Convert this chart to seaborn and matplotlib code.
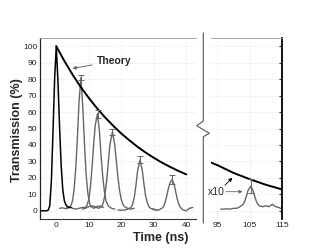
import matplotlib
matplotlib.use("Agg")
import matplotlib.pyplot as plt
import seaborn as sns
from matplotlib.lines import Line2D

# theory curve, right panel is x10
theory_t = [0, 2.5, 5, 7.5, 10, 12.5, 15, 17.5, 20, 22.5, 25, 27.5, 30, 32.5, 35, 37.5, 40]
theory_y = [100, 91.0, 82.8, 75.3, 68.6, 62.4, 56.8, 51.7, 47.0, 42.8, 38.9, 35.4, 32.2, 29.3, 26.7, 24.3, 22.1]
theory_t_late = [93, 95, 100, 105, 110, 115]
theory_y_late = [29.3, 27.7, 23.0, 19.2, 15.8, 13.0]

# input pulse (black)
ref_t = [-5, -4, -3, -2.5, -2, -1.5, -1, -0.5, 0, 0.5, 1, 1.5, 2, 2.5, 3, 3.5, 4, 4.5]
ref_y = [0, 0, 0, 0.3, 3, 18, 48, 80, 100, 80, 52, 28, 13, 6, 3.5, 2.5, 2, 2]

# delayed pulses (gray)
p1_t = [1, 2, 3, 4, 4.5, 5, 5.5, 6, 6.5, 7, 7.6, 8.2, 8.7, 9.2, 9.7, 10.2, 10.7, 11.5, 12.5, 13.5, 14.5]
p1_y = [1.5, 1.8, 1.2, 2, 3, 6, 13, 26, 44, 66, 81, 62, 40, 22, 11, 5, 2.5, 1.5, 2.5, 3, 2]
p2_t = [3, 4, 5, 6, 7, 8, 9, 9.5, 10, 10.5, 11, 11.5, 12, 12.7, 13.3, 13.8, 14.3, 14.8, 15.3, 16, 17, 18]
p2_y = [1.5, 2.5, 1.5, 1, 1.5, 2, 2, 3.5, 7, 14, 26, 40, 52, 59, 48, 33, 21, 12, 6, 3, 1.5, 1]
p3_t = [8, 9, 10, 11, 12, 13, 14, 14.5, 15, 15.5, 16, 16.5, 17.3, 18, 18.5, 19, 19.5, 20, 20.5, 21, 22, 23, 24]
p3_y = [1, 1.5, 2.5, 3, 2.5, 1.5, 2.5, 5, 10, 18, 29, 40, 48, 40, 30, 20, 12, 7, 4, 2.5, 1.5, 1, 1.5]
p4_t = [19, 20, 21, 22, 23, 23.5, 24, 24.5, 25, 25.8, 26.5, 27, 27.5, 28, 28.5, 29, 30, 31]
p4_y = [0.5, 0.3, 0.5, 1, 2, 4, 8, 15, 24, 31, 24, 16, 9, 5, 2.5, 1.5, 1, 0.5]
p5_t = [29.5, 30.5, 31.5, 32.5, 33, 33.5, 34, 34.5, 35, 35.6, 36.2, 36.7, 37.2, 37.7, 38.2, 39, 40, 41, 42]
p5_y = [1, 0.5, 0.5, 1.5, 2.5, 5, 9, 13.5, 17, 19, 16.5, 12, 7.5, 4, 2, 0.5, 0, 1.5, 2]
p6_t = [96, 97, 98, 99, 100, 101, 102, 103, 103.5, 104, 104.5, 105.3, 106, 106.5, 107, 107.5, 108, 109, 110, 111, 112, 113, 114, 115]
p6_y = [1, 1, 1.2, 1, 1.5, 1.5, 2.5, 4, 6, 9, 12.5, 14.8, 12.5, 9, 6, 4, 3, 2.5, 3, 2.5, 4, 2.5, 2, 1]

# error bars at the peaks
err_t = [7.6, 12.7, 17.3, 25.8, 35.6]
err_y = [81, 59, 48, 31, 19]
err_e = [1.5, 2.5, 2, 2, 2.5]
err_t_late = [105.3]
err_y_late = [15]
err_e_late = [4.5]

sns.set_style("white")
plt.rcParams["font.family"] = ["Liberation Sans", "DejaVu Sans"]

fig = plt.figure(figsize=(3.11, 2.48), dpi=100)
ax1 = fig.add_axes([40 / 311, 1 - 219 / 248, 156 / 311, 181 / 248])
ax2 = fig.add_axes([211 / 311, 1 - 219 / 248, 71 / 311, 181 / 248])

gray = "#666666"
for ax in (ax1, ax2):
    ax.set_ylim(-5, 105)
    ax.grid(True, color="#d4d4d4", linestyle=(0, (1, 2)), linewidth=0.5)
    ax.set_xlabel("")
    ax.set_ylabel("")
    ax.tick_params(labelsize=6, colors="#222222", length=2, direction="in", pad=2)
    ax.spines["top"].set_color("#999999")
    ax.spines["top"].set_linewidth(0.6)

# left panel
for t, y in [(p1_t, p1_y), (p2_t, p2_y), (p3_t, p3_y), (p4_t, p4_y), (p5_t, p5_y)]:
    sns.lineplot(x=t, y=y, ax=ax1, color=gray, lw=1.0, sort=False)
sns.lineplot(x=ref_t, y=ref_y, ax=ax1, color="black", lw=1.1, sort=False)
sns.lineplot(x=theory_t, y=theory_y, ax=ax1, color="black", lw=1.4, sort=False)
ax1.errorbar(err_t, err_y, yerr=err_e, fmt="none", ecolor=gray, elinewidth=0.7, capsize=2, capthick=0.7)
ax1.set_xlim(-5, 43)
ax1.set_xticks([0, 10, 20, 30, 40])
ax1.set_yticks(range(0, 101, 10))
ax1.spines["right"].set_visible(False)
ax1.spines["left"].set_color("#222222")
ax1.spines["left"].set_linewidth(0.9)
ax1.spines["bottom"].set_color("#333333")
ax1.spines["bottom"].set_linewidth(0.8)
ax1.annotate("Theory", xy=(5, 86.5), xytext=(12.5, 91), ha="left", va="center",
             fontsize=7.5, fontweight="bold",
             arrowprops=dict(arrowstyle="-|>", color=gray, lw=0.7, mutation_scale=5, shrinkA=1, shrinkB=0))

# right panel (x10)
sns.lineplot(x=p6_t, y=p6_y, ax=ax2, color=gray, lw=1.0, sort=False)
sns.lineplot(x=theory_t_late, y=theory_y_late, ax=ax2, color="black", lw=1.4, sort=False)
ax2.errorbar(err_t_late, err_y_late, yerr=err_e_late, fmt="none", ecolor=gray, elinewidth=0.7, capsize=2, capthick=0.7)
ax2.set_xlim(93, 115)
ax2.set_xticks([95, 105, 115])
ax2.set_yticks(range(0, 101, 10))
ax2.yaxis.tick_right()
ax2.tick_params(axis="y", labelright=False, length=2.5, direction="in")
ax2.tick_params(axis="x", length=0)
ax2.spines["left"].set_visible(False)
ax2.spines["bottom"].set_visible(False)
ax2.spines["right"].set_color("black")
ax2.spines["right"].set_linewidth(1.3)
ax2.text(92, 11.6, "x10", ha="left", va="center", fontsize=7.5, clip_on=False)
ax2.annotate("", xy=(99.6, 20), xytext=(97.3, 15.5),
             arrowprops=dict(arrowstyle="-|>", color="black", lw=0.6, mutation_scale=5, shrinkA=0, shrinkB=0))
ax2.annotate("", xy=(102.8, 11.6), xytext=(97.6, 11.6),
             arrowprops=dict(arrowstyle="-|>", color=gray, lw=0.6, mutation_scale=5, shrinkA=0, shrinkB=0))

# axis break marker
bx = [203.3, 203.3, 196.7, 209.3, 203.3, 203.3]
by = [33, 121, 125.7, 133.3, 136.7, 223]
fig.add_artist(Line2D([x / 311 for x in bx], [1 - y / 248 for y in by],
                      color="#555555", lw=0.8, transform=fig.transFigure))

fig.text(17.5 / 311, 1 - 130 / 248, "Transmission (%)", rotation=90, ha="center", va="center",
         fontsize=9, fontweight="bold")
fig.text(161 / 311, 1 - 238 / 248, "Time (ns)", ha="center", va="center",
         fontsize=9, fontweight="bold")

fig.savefig("out.png", dpi=100)
